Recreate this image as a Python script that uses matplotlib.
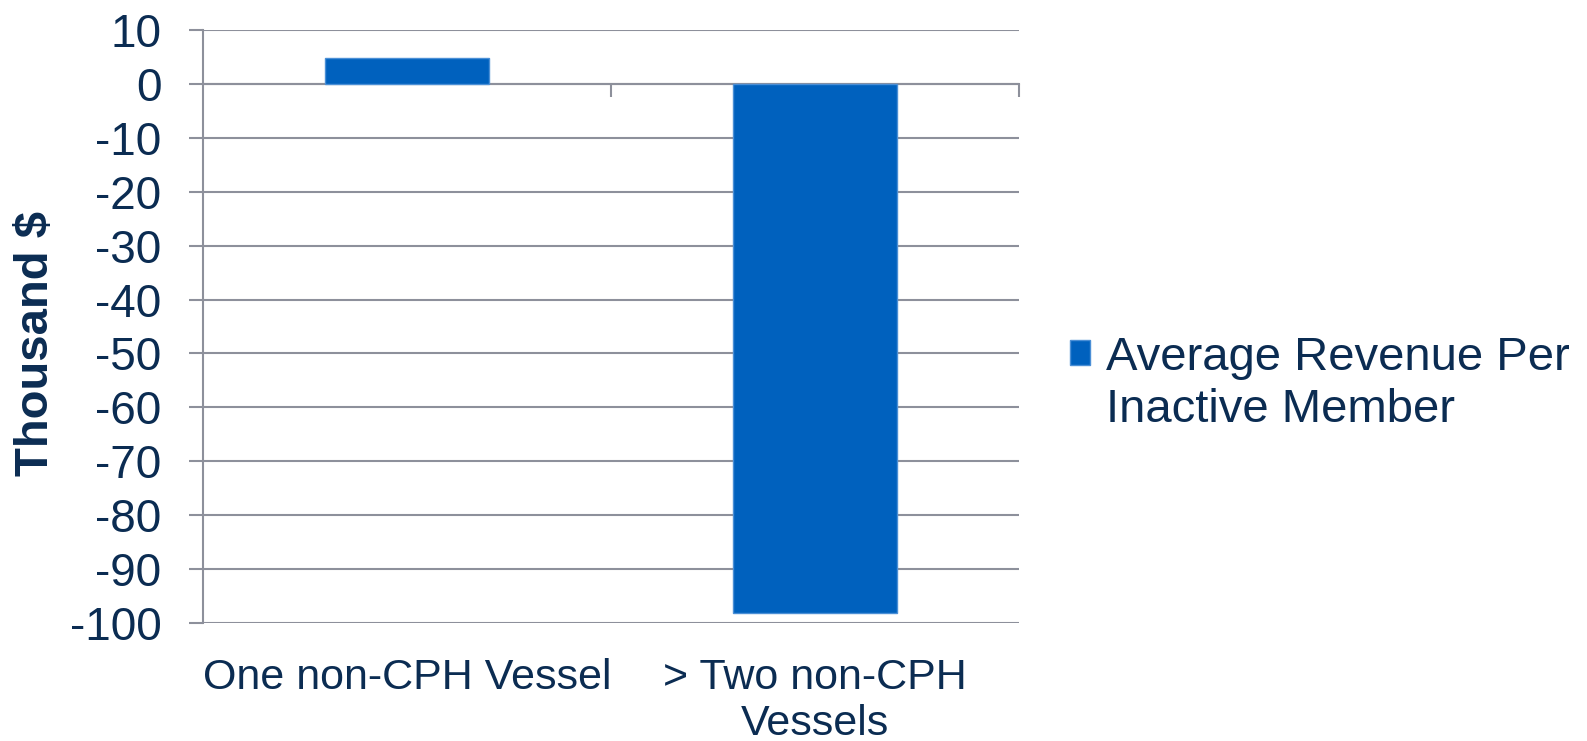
import numpy as np
import matplotlib.pyplot as plt
from matplotlib.patches import Patch, Rectangle
from matplotlib.legend_handler import HandlerPatch

# ----- Data -----
categories = ["One non-CPH Vessel", "> Two non-CPH\nVessels"]
avg_revenue = [4.8, -98.2]          # thousand $
series_name = "Average Revenue Per\nInactive Member"
yticks = list(range(-100, 11, 10))

# ----- Style -----
bar_color = "#0061BE"
edge_color = "#4B8FD6"
grid_color = "#8D909B"
text_color = "#0B2C52"

plt.rcParams["font.family"] = ["Liberation Sans", "DejaVu Sans"]

fig = plt.figure(figsize=(15.87, 7.41), dpi=100)
ax = fig.add_axes([203 / 1587, 1 - 623 / 741, 816 / 1587, 593 / 741])

x = np.arange(len(categories))
ax.bar(x, avg_revenue, width=0.4, color=bar_color, edgecolor=edge_color,
       linewidth=1.0, zorder=3)

ax.set_xlim(-0.5, 1.5)
ax.set_ylim(-100, 10)
ax.set_yticks(yticks)
ax.set_yticklabels([str(v) for v in yticks])
ax.tick_params(axis="y", length=10, width=1.5, color=grid_color,
               labelsize=33, labelcolor=text_color, pad=20)
ax.yaxis.grid(True, color=grid_color, linewidth=1.5, zorder=0)
ax.set_axisbelow(True)

# zero line acts as the category axis, with divider ticks between groups
for side in ["top", "right"]:
    ax.spines[side].set_visible(False)
ax.spines["left"].set_color(grid_color)
ax.spines["left"].set_linewidth(1.5)
ax.spines["bottom"].set_position(("data", 0))
ax.spines["bottom"].set_color(grid_color)
ax.spines["bottom"].set_linewidth(1.5)
ax.set_xticks(x)
ax.set_xticklabels([])
ax.tick_params(axis="x", which="major", length=0)
ax.set_xticks([0.5, 1.5], minor=True)
ax.tick_params(axis="x", which="minor", length=9, width=1.5,
               color=grid_color, direction="out")

# category labels sit under the plot area
sec = ax.secondary_xaxis("bottom")
sec.set_xticks(x, labels=categories)
sec.tick_params(length=0, labelsize=31, labelcolor=text_color, pad=25)
for s in sec.spines.values():
    s.set_visible(False)
for lbl in sec.get_xticklabels():
    lbl.set_linespacing(1.2)

ax.set_ylabel("Thousand $", fontsize=34, fontweight="bold", color=text_color)
ax.yaxis.set_label_coords(-0.205, 0.472)
ax.yaxis.label.set_va("center")


# legend square sits beside the first line of the label
def top_square(legend, orig_handle, xdescent, ydescent, width, height, fontsize):
    return Rectangle((-xdescent, -ydescent + 23), width, height)


handle = Patch(facecolor=bar_color, edgecolor=edge_color, linewidth=1.0)
leg = ax.legend([handle], [series_name], loc="center left",
                bbox_to_anchor=(1.062, 0.403), frameon=False, fontsize=34,
                handlelength=0.43, handleheight=0.43, handletextpad=0.34,
                borderpad=0, borderaxespad=0,
                handler_map={Patch: HandlerPatch(patch_func=top_square)})
for t in leg.get_texts():
    t.set_color(text_color)
    t.set_linespacing(1.22)

fig.savefig("out.png", dpi=100)
